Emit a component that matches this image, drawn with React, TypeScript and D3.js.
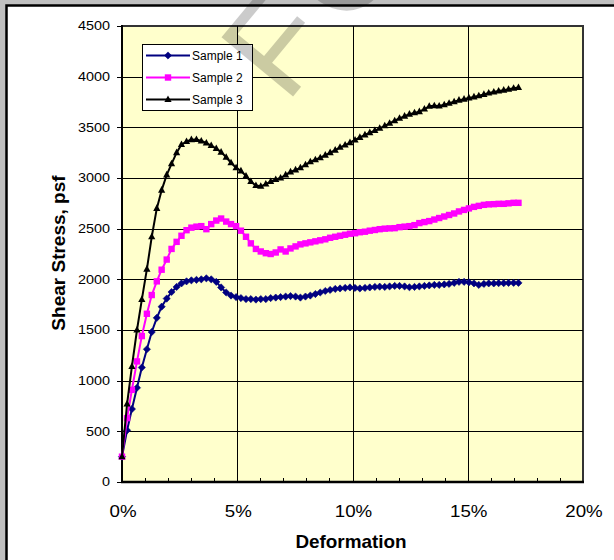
import React from 'react';
import * as d3 from 'd3';

// Deformation in percent
const deformation = [
  0, 0.22, 0.43, 0.65, 0.86, 1.08, 1.29, 1.51, 1.72, 1.94,
  2.15, 2.37, 2.58, 2.8, 3.01, 3.23, 3.44, 3.66, 3.87, 4.09,
  4.3, 4.52, 4.73, 4.95, 5.16, 5.38, 5.59, 5.81, 6.02, 6.24,
  6.45, 6.67, 6.88, 7.1, 7.31, 7.53, 7.74, 7.96, 8.17, 8.39,
  8.6, 8.82, 9.03, 9.25, 9.46, 9.68, 9.89, 10.11, 10.32, 10.54,
  10.75, 10.97, 11.18, 11.4, 11.61, 11.83, 12.04, 12.26, 12.47, 12.69,
  12.9, 13.12, 13.33, 13.55, 13.76, 13.98, 14.19, 14.41, 14.62, 14.84,
  15.05, 15.27, 15.48, 15.7, 15.91, 16.13, 16.34, 16.56, 16.77, 16.99,
  17.2,
];

const sample1 = [
  250, 510, 720, 930, 1130, 1310, 1480, 1620, 1730, 1810,
  1875, 1925, 1960, 1980, 1990, 1995, 2000, 2010, 2000, 1975,
  1920, 1870, 1840, 1825, 1815, 1805, 1805, 1800, 1805, 1805,
  1815, 1820, 1825, 1830, 1835, 1830, 1820, 1830, 1840, 1855,
  1870, 1885, 1895, 1905, 1910, 1915, 1920, 1915, 1910, 1915,
  1920, 1925, 1928, 1925, 1930, 1935, 1935, 1930, 1922, 1925,
  1930, 1935, 1940, 1945, 1945, 1950, 1955, 1965, 1975, 1975,
  1970, 1960, 1945, 1955, 1960, 1960, 1962, 1962, 1965, 1965,
  1965,
];

const sample2 = [
  250, 630, 910, 1190, 1440, 1660, 1845, 1980, 2095, 2195,
  2300, 2370, 2430, 2485, 2510, 2520, 2525, 2495, 2545, 2580,
  2600, 2570, 2545, 2525, 2480, 2420, 2355, 2300, 2275, 2258,
  2250, 2265, 2295, 2275, 2305, 2325, 2345, 2355, 2365, 2375,
  2385, 2395, 2410, 2420, 2430, 2440, 2450, 2455, 2465, 2470,
  2480, 2487, 2495, 2500, 2503, 2505, 2515, 2520, 2525, 2535,
  2555, 2565, 2575, 2590, 2605, 2620, 2635, 2650, 2670, 2685,
  2700, 2715, 2725, 2735, 2740, 2742, 2745, 2745, 2750, 2755,
  2755,
];

const sample3 = [
  250, 770, 1140, 1500, 1800, 2100, 2420, 2700, 2880, 3030,
  3140, 3250, 3330, 3360, 3378, 3380, 3365, 3345, 3320, 3290,
  3255, 3205, 3150, 3100, 3070, 3020, 2965, 2925, 2918, 2940,
  2965, 2985, 3000, 3030, 3060, 3080, 3100, 3130, 3160, 3180,
  3200, 3225, 3250, 3275, 3303, 3325, 3349, 3375, 3400, 3425,
  3447, 3468, 3490, 3515, 3540, 3565, 3589, 3610, 3630, 3643,
  3655, 3680, 3708, 3712, 3710, 3722, 3737, 3752, 3768, 3778,
  3790, 3800, 3812, 3825, 3838, 3848, 3858, 3867, 3876, 3885,
  3893,
];

const seriesNames = ['Sample 1', 'Sample 2', 'Sample 3'];
const seriesColors = ['#000080', '#FF00FF', '#000000'];
const markerKinds = ['diamond', 'square', 'triangle'];
const seriesValues = [sample1, sample2, sample3];

const yTicks = [0, 500, 1000, 1500, 2000, 2500, 3000, 3500, 4000, 4500];
const xTicks = [0, 5, 10, 15, 20];
const xTickLabels = ['0%', '5%', '10%', '15%', '20%'];
const xMinorTicks = [1, 2, 3, 4, 6, 7, 8, 9, 11, 12, 13, 14, 16, 17, 18, 19];

const FONT = "Arial, 'Liberation Sans', sans-serif";

function Marker({ kind, cx, cy, color }: { kind: string; cx: number; cy: number; color: string }) {
  if (kind === 'diamond') {
    const r = 3.6;
    return <path d={`M${cx},${cy - r}L${cx + r},${cy}L${cx},${cy + r}L${cx - r},${cy}Z`} fill={color} stroke={color} strokeWidth={0.6} />;
  }
  if (kind === 'square') {
    const s = 6.4;
    return <rect x={cx - s / 2} y={cy - s / 2} width={s} height={s} fill={color} />;
  }
  const w = 7.2, h = 6.6;
  return <path d={`M${cx},${cy - h * 0.62}L${cx + w / 2},${cy + h * 0.38}L${cx - w / 2},${cy + h * 0.38}Z`} fill={color} />;
}

function SText({ x, y, sx = 1, anchor = 'start', size, weight = 'normal', children }: any) {
  return (
    <g transform={`translate(${x},${y}) scale(${sx},1)`}>
      <text textAnchor={anchor} fontSize={size} fontWeight={weight} fontFamily={FONT} fill="#000">
        {children}
      </text>
    </g>
  );
}

export default function App() {
  const W = 614, H = 560;
  const plot = { left: 122, right: 583, top: 26, bottom: 482 };
  const x = d3.scaleLinear().domain([0, 20]).range([plot.left, plot.right]);
  const y = d3.scaleLinear().domain([0, 4500]).range([plot.bottom, plot.top]);
  const line = d3.line<number>().x((_, i) => x(deformation[i])).y((d) => y(d));

  const legendRows = [55.5, 77.5, 99.5];

  return (
    <svg width={W} height={H} style={{ position: 'absolute', left: 0, top: 0 }}>
      <rect x={0} y={0} width={W} height={H} fill="#C0C0C0" />
      <rect x={6.5} y={5.5} width={W + 40} height={H + 40} fill="#FFFFFF" stroke="#000" strokeWidth={2.5} />

      {/* plot area */}
      <rect x={plot.left} y={plot.top} width={plot.right - plot.left} height={plot.bottom - plot.top} fill="#FFFFCC" stroke="#333" strokeWidth={2} />

      {/* gridlines */}
      {yTicks.slice(1, -1).map((t) => (
        <line key={'gy' + t} x1={plot.left} x2={plot.right} y1={Math.round(y(t)) + 0.5} y2={Math.round(y(t)) + 0.5} stroke="#000" strokeWidth={1} />
      ))}
      {xTicks.slice(1, -1).map((t) => (
        <line key={'gx' + t} x1={Math.round(x(t)) + 0.5} x2={Math.round(x(t)) + 0.5} y1={plot.top} y2={plot.bottom} stroke="#000" strokeWidth={1} />
      ))}

      {/* axes */}
      <line x1={plot.left} x2={plot.left} y1={plot.top - 1} y2={plot.bottom + 1} stroke="#000" strokeWidth={2} />
      <line x1={plot.left - 1} x2={plot.right + 1} y1={plot.bottom} y2={plot.bottom} stroke="#000" strokeWidth={2.5} />
      {yTicks.map((t) => (
        <line key={'ty' + t} x1={plot.left - 5} x2={plot.left} y1={Math.round(y(t)) + 0.5} y2={Math.round(y(t)) + 0.5} stroke="#000" strokeWidth={1} />
      ))}
      {xMinorTicks.map((t) => (
        <line key={'tx' + t} x1={Math.round(x(t)) + 0.5} x2={Math.round(x(t)) + 0.5} y1={plot.bottom - 4} y2={plot.bottom} stroke="#000" strokeWidth={1} />
      ))}

      {/* tick labels */}
      {yTicks.map((t) => (
        <SText key={'ly' + t} x={110} y={y(t) + 4.3} sx={1.2} anchor="end" size={12}>
          {String(t)}
        </SText>
      ))}
      {xTicks.map((t, i) => (
        <SText key={'lx' + t} x={x(t) + 1} y={516.5} sx={1.17} anchor="middle" size={16}>
          {xTickLabels[i]}
        </SText>
      ))}

      {/* axis titles */}
      <SText x={351} y={548} sx={1.08} anchor="middle" size={17.5} weight="bold">Deformation</SText>
      <g transform={`translate(64.5,253) rotate(-90)`}>
        <text textAnchor="middle" fontSize={19} fontWeight="bold" fontFamily={FONT}>Shear Stress, psf</text>
      </g>

      {/* series */}
      {seriesValues.map((vals, si) => (
        <g key={'s' + si}>
          <path d={line(vals) || ''} fill="none" stroke={seriesColors[si]} strokeWidth={2} strokeLinejoin="round" />
          {vals.map((v, i) => (
            <Marker key={i} kind={markerKinds[si]} cx={x(deformation[i])} cy={y(v)} color={seriesColors[si]} />
          ))}
        </g>
      ))}

      {/* legend */}
      <rect x={142.5} y={44.5} width={110} height={66} fill="#FFFFFF" stroke="#000" strokeWidth={1} />
      {seriesNames.map((name, i) => (
        <g key={'lg' + i}>
          <line x1={146} x2={190} y1={legendRows[i]} y2={legendRows[i]} stroke={seriesColors[i]} strokeWidth={2} />
          <Marker kind={markerKinds[i]} cx={168} cy={legendRows[i]} color={seriesColors[i]} />
          <text x={192} y={legendRows[i] + 4.3} fontSize={12} fontFamily={FONT}>{name}</text>
        </g>
      ))}

      {/* watermark */}
      <g transform="translate(286,105) rotate(-50.4)">
        <text x={0} y={0} fontSize={135} fontFamily={FONT} fill="#000" opacity={0.2} letterSpacing={12}>FOR</text>
      </g>
    </svg>
  );
}
